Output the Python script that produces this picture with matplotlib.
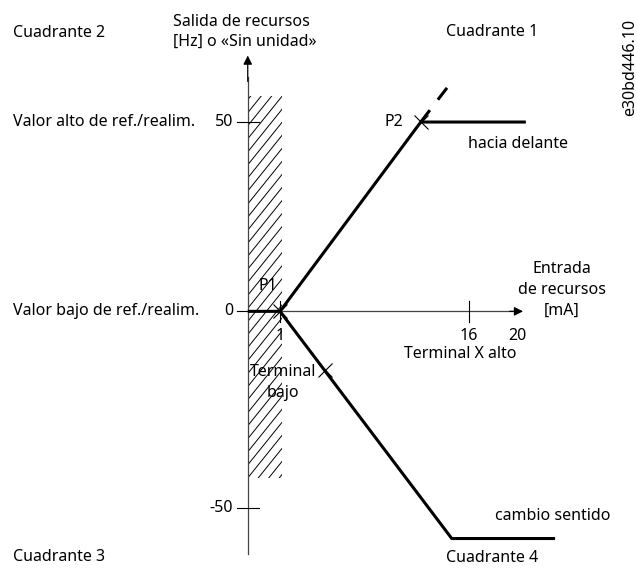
import matplotlib
matplotlib.use('Agg')
import matplotlib.pyplot as plt
import numpy as np
from matplotlib.patches import Rectangle

plt.rcParams['font.family'] = ['Noto Sans', 'DejaVu Sans']

# schematic values (x: input in mA, y: output in Hz)
x_low, x_high = 1, 16
x_label_20 = 20
y_high, y_zero = 50, 0
y_low = -60                      # reverse plateau (drawn below the -50 mark)
ytick_pos = [50, 0, -52]         # where the ticks sit on the (schematic) axis
ytick_lab = ['50', '0', '-50']
ytick_names = ['Valor alto de ref./realim.', 'Valor bajo de ref./realim.', '']

# curve points
fwd_x = [-1.56, x_low, 12.17, 20.51]
fwd_y = [y_zero, y_zero, y_high, y_high]
ext_x = [12.17, 14.57]
ext_y = [y_high, 60.4]
rev_x = [x_low, 14.63, 22.83]
rev_y = [y_zero, y_low, y_low]
term_low_x, term_low_y = 4.57, -15.6

axis_x = -1.56
hatch_x = [-1.56, 1.16]
hatch_y = [-44.0, 56.8]

fig = plt.figure(figsize=(6.37, 5.69), dpi=100)
ax = fig.add_axes([0, 0, 1, 1])
ax.set_xlim(-21.22, 29.33)
ax.set_ylim(-68.05, 82.23)
ax.axis('off')

# hatched "no use" band, steep thin lines clipped to the band
band = Rectangle((hatch_x[0], hatch_y[0]), hatch_x[1] - hatch_x[0], hatch_y[1] - hatch_y[0],
                 fill=False, linewidth=0)
ax.add_patch(band)
sx, sy = 12.6, 3.81     # px per unit
slope = 1.25 * sx / sy  # data slope for ~51 deg
step = 10.5 / sx
for x0 in np.arange(hatch_x[0] - 40 * step, hatch_x[1] + step, step):
    ln, = ax.plot([x0, x0 + 200 / slope], [hatch_y[0], hatch_y[0] + 200], color='black', lw=0.7)
    ln.set_clip_path(band)

axcol = '#444444'
# axes with arrows
ax.plot([axis_x, axis_x], [-64.0, 62], color=axcol, lw=0.9)
ax.annotate('', xy=(axis_x, 68.3), xytext=(axis_x, 60),
            arrowprops=dict(arrowstyle='-|>', color='black', lw=0.9, mutation_scale=13))
ax.plot([axis_x, 19.5], [0, 0], color=axcol, lw=0.9)
ax.annotate('', xy=(20.51, 0), xytext=(19.0, 0),
            arrowprops=dict(arrowstyle='-|>', color='black', lw=0.9, mutation_scale=13))

# ticks
for yp in ytick_pos:
    ax.plot([axis_x - 0.86, axis_x + 0.89], [yp, yp], color='black', lw=0.8)
for xp in [x_low, x_high]:
    ax.plot([xp, xp], [-2.7, 2.7], color='black', lw=0.8)

# curves
ax.plot(fwd_x, fwd_y, color='black', lw=2.2, solid_capstyle='butt')
ax.plot(ext_x, ext_y, color='black', lw=2.2, linestyle=(0, (4.9, 4.3)))
ax.plot(rev_x, rev_y, color='black', lw=2.2, solid_capstyle='butt')

# crosses
ax.plot([x_low, fwd_x[2], term_low_x], [y_zero, y_high, term_low_y], 'x', color='black',
        markersize=10, markeredgewidth=0.8)

fs = 11.5
for yp, lab, name in zip(ytick_pos, ytick_lab, ytick_names):
    ax.text(-2.73, yp, lab, ha='right', va='center', fontsize=fs)
    if name:
        ax.text(-20.19, yp, name, ha='left', va='center', fontsize=fs)

ax.text(x_low, -6.5, '1', ha='center', va='center', fontsize=fs)
ax.text(x_high, -6.5, '16', ha='center', va='center', fontsize=fs)
ax.text(19.8, -6.5, str(x_label_20), ha='center', va='center', fontsize=fs)
ax.text(15.29, -11.2, 'Terminal X alto', ha='center', va='center', fontsize=fs)
ax.text(1.24, -18.85, 'Terminal\nbajo', ha='center', va='center', fontsize=fs, linespacing=1.4)
ax.text(0.05, 6.6, 'P1', ha='center', va='center', fontsize=fs)
ax.text(10.04, 50, 'P2', ha='center', va='center', fontsize=fs)
ax.text(19.89, 44.2, 'hacia delante', ha='center', va='center', fontsize=fs)
ax.text(22.64, -54.0, 'cambio sentido', ha='center', va='center', fontsize=fs)
ax.text(23.38, 5.6, 'Entrada\nde recursos\n[mA]', ha='center', va='center', fontsize=fs, linespacing=1.4)
ax.text(-7.49, 73.7, 'Salida de recursos\n[Hz] o «Sin unidad»', ha='left', va='center', fontsize=fs,
        linespacing=1.3)

ax.text(-20.19, 73.6, 'Cuadrante 2', ha='left', va='center', fontsize=fs)
ax.text(17.83, 73.8, 'Cuadrante 1', ha='center', va='center', fontsize=fs)
ax.text(-20.19, -65.0, 'Cuadrante 3', ha='left', va='center', fontsize=fs)
ax.text(17.8, -65.2, 'Cuadrante 4', ha='center', va='center', fontsize=fs)
ax.text(28.78, 64.4, 'e30bd446.10', ha='center', va='center', rotation=90, fontsize=fs)

fig.savefig('out.png', dpi=100)
